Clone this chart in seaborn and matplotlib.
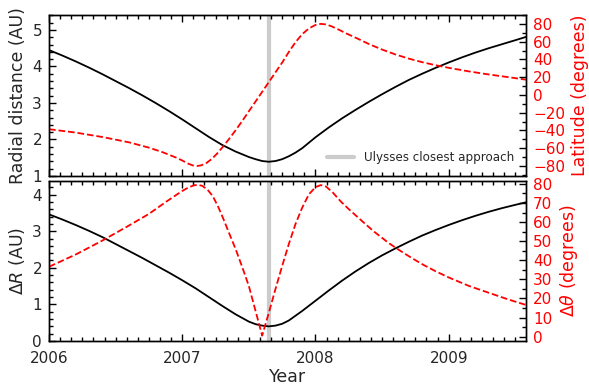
import matplotlib
matplotlib.use("Agg")
import matplotlib.pyplot as plt
from matplotlib.ticker import MultipleLocator, FuncFormatter
import seaborn as sns
import pandas as pd

# ---- data -------------------------------------------------------------
closest_approach = 2007.649

years_r = [2006.0, 2006.1, 2006.2, 2006.3, 2006.4, 2006.5, 2006.6, 2006.7,
           2006.8, 2006.9, 2007.0, 2007.1, 2007.2, 2007.3, 2007.4, 2007.5,
           2007.55, 2007.6, 2007.65, 2007.7, 2007.75, 2007.8, 2007.85, 2007.9,
           2007.95, 2008.0, 2008.1, 2008.2, 2008.3, 2008.4, 2008.5, 2008.6,
           2008.7, 2008.8, 2008.9, 2009.0, 2009.1, 2009.2, 2009.3, 2009.4,
           2009.5, 2009.58]
radial = [4.45, 4.30, 4.14, 3.97, 3.79, 3.60, 3.41, 3.21,
          3.00, 2.78, 2.55, 2.31, 2.07, 1.85, 1.67, 1.52,
          1.46, 1.41, 1.39, 1.41, 1.46, 1.54, 1.64, 1.76,
          1.91, 2.06, 2.33, 2.58, 2.81, 3.03, 3.24, 3.44,
          3.63, 3.80, 3.96, 4.11, 4.25, 4.38, 4.50, 4.61,
          4.72, 4.81]

years_lat = [2006.0, 2006.2, 2006.4, 2006.6, 2006.75, 2006.85, 2006.95, 2007.0,
             2007.04, 2007.08, 2007.11, 2007.14, 2007.18, 2007.22, 2007.26, 2007.3,
             2007.35, 2007.4, 2007.45, 2007.5, 2007.55, 2007.6, 2007.65, 2007.7,
             2007.75, 2007.8, 2007.85, 2007.9, 2007.95, 2008.0, 2008.04, 2008.08,
             2008.12, 2008.17, 2008.23, 2008.31, 2008.4, 2008.5, 2008.6, 2008.7,
             2008.8, 2008.9, 2009.0, 2009.15, 2009.3, 2009.45, 2009.58]
latitude = [-38.7, -42.5, -47.5, -53.5, -59.5, -64.5, -70.5, -74.0,
            -77.3, -79.6, -80.2, -79.6, -77.0, -72.5, -66.5, -59.5,
            -50.0, -40.0, -29.5, -18.5, -7.5, 3.5, 14.5, 25.5,
            36.5, 48.5, 59.5, 68.5, 75.0, 79.0, 80.2, 79.6,
            77.5, 74.0, 69.5, 64.0, 57.5, 51.2, 45.7, 41.0,
            37.0, 33.6, 30.6, 26.6, 23.1, 20.0, 17.2]

years_dr = [2006.0, 2006.1, 2006.2, 2006.3, 2006.4, 2006.5, 2006.6, 2006.7,
            2006.8, 2006.9, 2007.0, 2007.1, 2007.2, 2007.3, 2007.4, 2007.5,
            2007.55, 2007.6, 2007.65, 2007.7, 2007.75, 2007.8, 2007.9, 2008.0,
            2008.1, 2008.2, 2008.3, 2008.4, 2008.5, 2008.6, 2008.7, 2008.8,
            2008.9, 2009.0, 2009.1, 2009.2, 2009.3, 2009.4, 2009.5, 2009.58]
delta_r = [3.46, 3.32, 3.17, 3.01, 2.84, 2.65, 2.46, 2.27,
           2.07, 1.87, 1.66, 1.44, 1.20, 0.96, 0.73, 0.53,
           0.46, 0.42, 0.40, 0.42, 0.47, 0.56, 0.82, 1.10,
           1.38, 1.65, 1.90, 2.13, 2.34, 2.53, 2.71, 2.88,
           3.03, 3.17, 3.30, 3.42, 3.53, 3.63, 3.72, 3.79]

years_dth = [2006.0, 2006.2, 2006.4, 2006.6, 2006.75, 2006.88, 2006.95, 2007.0,
             2007.05, 2007.09, 2007.12, 2007.15, 2007.19, 2007.23, 2007.27, 2007.31,
             2007.35, 2007.4, 2007.45, 2007.5, 2007.55, 2007.6, 2007.65, 2007.7,
             2007.75, 2007.8, 2007.85, 2007.9, 2007.95, 2008.0, 2008.04, 2008.08,
             2008.13, 2008.19, 2008.25, 2008.35, 2008.44, 2008.55, 2008.64, 2008.72,
             2008.81, 2008.9, 2009.0, 2009.15, 2009.32, 2009.45, 2009.58]
delta_theta = [36.6, 43.0, 50.3, 58.2, 64.3, 70.7, 74.0, 76.3,
               78.3, 79.3, 79.5, 79.0, 77.0, 73.5, 68.0, 61.5,
               54.5, 46.0, 36.5, 26.5, 13.5, 0.5, 12.5, 25.0,
               37.0, 48.5, 59.0, 67.5, 74.5, 78.3, 79.4, 78.6,
               75.5, 70.8, 66.8, 60.5, 55.0, 49.0, 44.8, 41.3,
               37.6, 34.3, 31.0, 26.6, 22.5, 19.4, 16.6]

top = pd.DataFrame({"year": years_r, "r": radial})
lat = pd.DataFrame({"year": years_lat, "lat": latitude})
bot = pd.DataFrame({"year": years_dr, "dr": delta_r})
dth = pd.DataFrame({"year": years_dth, "dth": delta_theta})

# ---- style ------------------------------------------------------------
sns.set_style("ticks")
plt.rcParams.update({
    "font.family": ["DejaVu Sans"],
    "axes.edgecolor": "black",
    "axes.linewidth": 1.0,
    "axes.axisbelow": False,
    "mathtext.fontset": "dejavusans",
})

fig = plt.figure(figsize=(5.89, 3.89), dpi=100)
ax1 = fig.add_axes([0.0832, 0.5476, 0.8098, 0.4138])
ax2 = fig.add_axes([0.0832, 0.1234, 0.8098, 0.4121])
ax1r = ax1.twinx()
ax2r = ax2.twinx()

red = "#ff0000"
lw = 1.3
tick_fs = 11
lab_fs = 12.5
tick_w = 1.0
approach_style = dict(color="#cccccc", lw=3, zorder=0)

# ---- top panel --------------------------------------------------------
ax1.axvline(closest_approach, label="Ulysses closest approach", **approach_style)
sns.lineplot(data=top, x="year", y="r", ax=ax1, color="black", lw=lw)
sns.lineplot(data=lat, x="year", y="lat", ax=ax1r, color=red, lw=lw,
             linestyle="--")
ax1.set_ylim(1.0, 5.41)
ax1r.set_ylim(-91.5, 90.2)
ax1.set_xlabel("")
ax1.set_ylabel("Radial distance (AU)", fontsize=lab_fs)
ax1r.set_ylabel("Latitude (degrees)", fontsize=lab_fs, color=red)
ax1.yaxis.set_major_locator(MultipleLocator(1))
ax1.yaxis.set_minor_locator(MultipleLocator(0.2))
ax1r.yaxis.set_major_locator(MultipleLocator(20))
ax1r.yaxis.set_minor_locator(MultipleLocator(10))
ax1.tick_params(axis="x", labelbottom=False)
ax1.legend(loc="lower right", frameon=False, fontsize=8.6,
           handlelength=2.3, borderaxespad=0.6)

# ---- bottom panel -----------------------------------------------------
ax2.axvline(closest_approach, **approach_style)
sns.lineplot(data=bot, x="year", y="dr", ax=ax2, color="black", lw=lw)
sns.lineplot(data=dth, x="year", y="dth", ax=ax2r, color=red, lw=lw,
             linestyle="--")
ax2.set_ylim(0.0, 4.38)
ax2r.set_ylim(-2.3, 81.7)
ax2.set_xlabel("Year", fontsize=lab_fs, labelpad=1.5)
ax2.set_ylabel(r"$\Delta R$ (AU)", fontsize=lab_fs)
ax2r.set_ylabel(r"$\Delta\theta$ (degrees)", fontsize=lab_fs, color=red)
ax2.yaxis.set_major_locator(MultipleLocator(1))
ax2.yaxis.set_minor_locator(MultipleLocator(0.2))
ax2r.yaxis.set_major_locator(MultipleLocator(10))
ax2r.yaxis.set_minor_locator(MultipleLocator(5))

# ---- shared tick styling ---------------------------------------------
for ax in (ax1, ax2):
    ax.set_xlim(2006.0, 2009.58)
    ax.xaxis.set_major_locator(MultipleLocator(1))
    ax.xaxis.set_minor_locator(MultipleLocator(1 / 12))
    ax.xaxis.set_major_formatter(FuncFormatter(lambda v, p: f"{v:.0f}"))
    ax.tick_params(axis="x", which="both", direction="in", top=True,
                   bottom=True, color="black", width=tick_w)
    ax.tick_params(axis="x", which="major", length=5, pad=7, labelsize=tick_fs)
    ax.tick_params(axis="x", which="minor", length=2.8)
    ax.tick_params(axis="y", which="both", direction="in", left=True,
                   right=False, color="black", width=tick_w)
    ax.tick_params(axis="y", which="major", length=5, pad=5, labelsize=tick_fs)
    ax.tick_params(axis="y", which="minor", length=2.8)
for ax in (ax1r, ax2r):
    ax.set_xlim(2006.0, 2009.58)
    ax.tick_params(axis="y", which="both", direction="in", right=True,
                   left=False, color="black", width=tick_w, labelcolor=red)
    ax.tick_params(axis="y", which="major", length=5, pad=5, labelsize=tick_fs)
    ax.tick_params(axis="y", which="minor", length=2.8)

fig.savefig("out.png", dpi=100)
